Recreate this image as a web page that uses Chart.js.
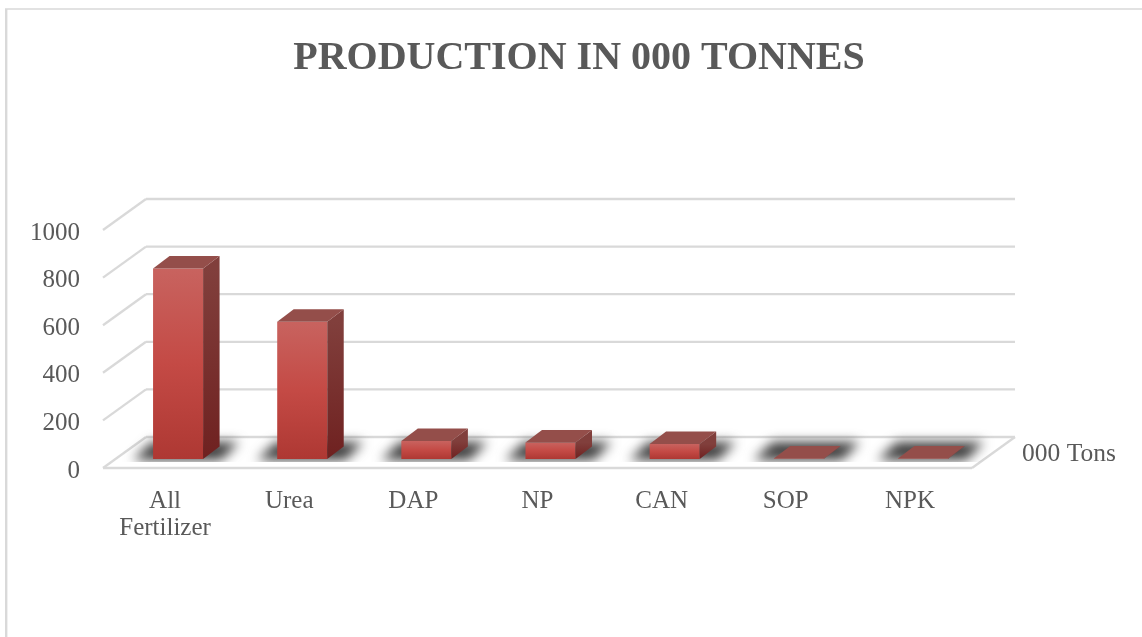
<!DOCTYPE html>
<html>
<head>
<meta charset="utf-8">
<title>Production in 000 tonnes</title>
<script src="https://cdn.jsdelivr.net/npm/chart.js@4/dist/chart.umd.min.js"></script>
<style>
html,body{margin:0;padding:0;background:#fff;overflow:hidden}
canvas{display:block}
</style>
</head>
<body>
<canvas id="myChart" width="1142" height="637"></canvas>
<script>
const categories=[["All","Fertilizer"],"Urea","DAP","NP","CAN","SOP","NPK"];
const production=[800,577,76,69,63,2,2];
const yTicks=[0,200,400,600,800,1000];
const seriesName="000 Tons";
const titleText="PRODUCTION IN 000 TONNES";

const textColor="#595959";
const gridColor="#d9d9d9";
const fontName="'Liberation Serif',serif";

// depth of the floor and of one bar
const frontY=-3;
const wallX=43, wallY=-31;
const barShiftX=13, barShiftY=-12;
const barDepthX=16.5, barDepthY=-12.5;

function line(ctx,x1,y1,x2,y2){
    ctx.beginPath();
    ctx.moveTo(x1,y1);
    ctx.lineTo(x2,y2);
    ctx.stroke();
}
function poly(ctx,pts){
    ctx.beginPath();
    pts.forEach((p,i)=>{ i===0 ? ctx.moveTo(p[0],p[1]) : ctx.lineTo(p[0],p[1]) });
    ctx.closePath();
    ctx.fill();
}

// grid walls, floor, shadows under the bars, then bars + side and top faces
const fake3d={
    id:"fake3d",
    beforeDraw(chart){
        const ctx=chart.ctx;
        ctx.save();
        ctx.fillStyle="#fff";
        ctx.fillRect(0,0,chart.width,chart.height);
        ctx.strokeStyle=gridColor;
        ctx.lineWidth=2.4;
        line(ctx,6.2,637,6.2,9);
        ctx.lineWidth=1.6;
        line(ctx,5,9,1142,9);
        ctx.restore();
    },
    beforeDatasetsDraw(chart){
        const ctx=chart.ctx, a=chart.chartArea, y=chart.scales.y;
        ctx.save();
        ctx.strokeStyle=gridColor;
        ctx.lineWidth=2.3;
        yTicks.forEach(v=>{
            const py=y.getPixelForValue(v)+frontY;
            line(ctx,a.left,py,a.left+wallX,py+wallY);
            line(ctx,a.left+wallX,py+wallY,a.right+wallX,py+wallY);
        });
        const y0=y.getPixelForValue(0)+frontY;
        line(ctx,a.left,y0,a.right,y0);
        line(ctx,a.right,y0,a.right+wallX,y0+wallY);

        ctx.font="25.5px "+fontName;
        ctx.fillStyle=textColor;
        ctx.textBaseline="middle";
        ctx.fillText(seriesName,a.right+wallX+7,y0-14);

        const meta=chart.getDatasetMeta(0);
        ctx.save();
        ctx.translate(barShiftX,barShiftY);
        const by=y.getPixelForValue(0);
        ctx.beginPath();
        ctx.rect(0,0,chart.width,by+3);
        ctx.clip();
        ctx.filter="blur(6px)";
        ctx.fillStyle="#3c3c3c";
        meta.data.forEach(b=>{
            const l=b.x-b.width/2, r=b.x+b.width/2;
            poly(ctx,[[l-20,by+1],[l-1,by-17],[r+36,by-17],[r+18,by+1]]);
        });
        ctx.restore();
        ctx.restore();

        ctx.save();
        ctx.translate(barShiftX,barShiftY);
    },
    afterDatasetsDraw(chart){
        const ctx=chart.ctx, meta=chart.getDatasetMeta(0);
        meta.data.forEach(b=>{
            const l=b.x-b.width/2, r=b.x+b.width/2, t=b.y, bot=b.base;
            const g=ctx.createLinearGradient(0,t,0,bot);
            g.addColorStop(0,"#813f3c");
            g.addColorStop(1,"#6f2120");
            ctx.fillStyle=g;
            poly(ctx,[[r,t],[r+barDepthX,t+barDepthY],[r+barDepthX,bot+barDepthY],[r,bot]]);
            ctx.fillStyle="#944e4a";
            poly(ctx,[[l,t],[l+barDepthX,t+barDepthY],[r+barDepthX,t+barDepthY],[r,t]]);
        });
        ctx.restore();
    }
};

let barChart=new Chart("myChart",{
    type:"bar",
    data:{
        labels:categories,
        datasets:[{
            label:seriesName,
            data:production,
            barPercentage:0.403,
            categoryPercentage:1,
            clip:false,
            backgroundColor(c){
                const chart=c.chart, y=chart.scales.y;
                if(!chart.chartArea||!y||c.dataIndex===undefined) return "#c54a46";
                const g=chart.ctx.createLinearGradient(0,y.getPixelForValue(production[c.dataIndex]),0,y.getPixelForValue(0));
                g.addColorStop(0,"#c8635f");
                g.addColorStop(0.5,"#c44a45");
                g.addColorStop(1,"#ae3833");
                return g;
            }
        }]
    },
    options:{
        responsive:false,
        animation:false,
        layout:{padding:{left:16,right:0,top:0,bottom:0}},
        plugins:{
            legend:{display:false},
            tooltip:{enabled:false},
            title:{
                display:true,
                text:titleText,
                color:textColor,
                font:{family:fontName,size:40,weight:"bold",lineHeight:1.2},
                padding:{top:35,bottom:150}
            }
        },
        scales:{
            x:{
                grid:{display:false},
                border:{display:false},
                afterFit(s){s.height=166},
                ticks:{
                    color:textColor,
                    font:{family:fontName,size:25,lineHeight:1.08},
                    padding:9,
                    maxRotation:0,
                    autoSkip:false
                }
            },
            y:{
                min:0,
                max:1000,
                grid:{display:false},
                border:{display:false},
                afterFit(s){s.width=87},
                afterBuildTicks(s){s.ticks=yTicks.map(v=>({value:v}))},
                ticks:{
                    color:textColor,
                    font:{family:fontName,size:25},
                    padding:15,
                    callback:v=>String(v)
                }
            },
            // keeps the room on the right for the depth label, title stays centred on the canvas
            spacer:{
                position:"right",
                display:true,
                grid:{display:false},
                border:{display:false},
                ticks:{display:false},
                afterFit(s){s.width=170}
            }
        }
    },
    plugins:[fake3d]
});
</script>
</body>
</html>
